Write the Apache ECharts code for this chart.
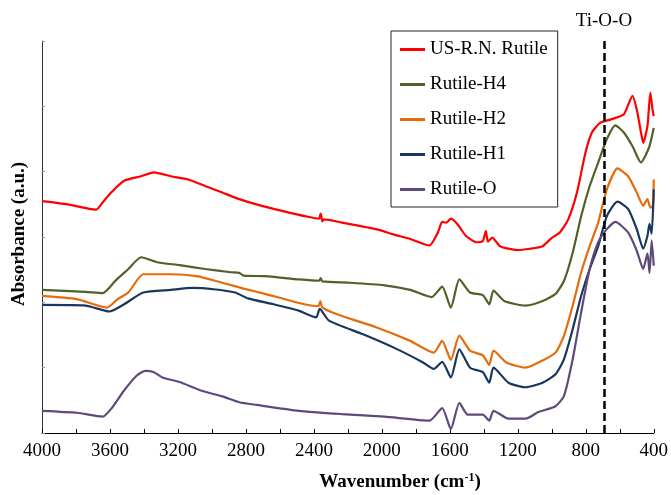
<!DOCTYPE html>
<html>
<head>
<meta charset="utf-8">
<script src="https://cdn.jsdelivr.net/npm/echarts@6/dist/echarts.min.js"></script>
<style>
    html, body { margin: 0; padding: 0; background: #fff; }
    #chart { width: 671px; height: 495px; }
</style>
</head>
<body>
<div id="chart"></div>
<script>
    // wavenumber (cm-1) / absorbance (a.u.)
    const redWn = [4000, 3850, 3720, 3680, 3643, 3593, 3517, 3417, 3341, 3241, 3140, 3040, 2939, 2839, 2738, 2587, 2436, 2370, 2360, 2350, 2340, 2235, 2034, 1933, 1833, 1720, 1670, 1645, 1620, 1594, 1556, 1506, 1443, 1406, 1388, 1376, 1350, 1305, 1204, 1129, 1054, 1003, 953, 903, 852, 802, 764, 714, 651, 576, 525, 500, 475, 462, 437, 420, 407, 400];
    const redAbs = [3.55, 3.50, 3.43, 3.42, 3.53, 3.68, 3.86, 3.93, 3.99, 3.93, 3.88, 3.78, 3.68, 3.58, 3.50, 3.40, 3.31, 3.28, 3.36, 3.24, 3.27, 3.22, 3.12, 3.04, 2.97, 2.87, 3.07, 3.23, 3.22, 3.28, 3.20, 3.02, 2.92, 2.94, 3.09, 2.93, 2.99, 2.86, 2.80, 2.82, 2.86, 2.98, 3.07, 3.27, 3.68, 4.29, 4.60, 4.75, 4.80, 4.88, 5.16, 4.95, 4.60, 4.44, 4.70, 5.21, 4.95, 4.85];

    const h4Wn = [4000, 3744, 3643, 3568, 3492, 3417, 3316, 3190, 3040, 2889, 2840, 2813, 2688, 2487, 2370, 2360, 2350, 2185, 1984, 1833, 1707, 1645, 1594, 1544, 1481, 1406, 1368, 1343, 1280, 1154, 1054, 978, 928, 877, 827, 777, 727, 676, 626, 576, 525, 475, 450, 425, 400];
    const h4Abs = [2.19, 2.16, 2.14, 2.33, 2.51, 2.69, 2.61, 2.57, 2.51, 2.46, 2.45, 2.41, 2.40, 2.35, 2.33, 2.37, 2.32, 2.30, 2.26, 2.19, 2.08, 2.24, 1.92, 2.35, 2.15, 2.11, 1.97, 2.18, 2.02, 1.95, 2.02, 2.13, 2.33, 2.76, 3.32, 3.78, 4.14, 4.50, 4.71, 4.60, 4.39, 4.14, 4.24, 4.39, 4.67];

    const h2Wn = [4000, 3794, 3618, 3555, 3492, 3404, 3241, 3090, 2939, 2813, 2688, 2487, 2374, 2362, 2350, 2235, 2034, 1833, 1695, 1645, 1594, 1544, 1481, 1406, 1368, 1343, 1267, 1154, 1054, 978, 928, 877, 827, 777, 727, 676, 613, 551, 500, 462, 437, 420, 405, 400];
    const h2Abs = [2.10, 2.05, 1.92, 2.05, 2.15, 2.43, 2.43, 2.40, 2.30, 2.21, 2.13, 1.99, 1.94, 2.02, 1.92, 1.79, 1.62, 1.41, 1.23, 1.41, 1.12, 1.49, 1.26, 1.19, 1.04, 1.26, 1.08, 1.00, 1.11, 1.23, 1.49, 1.95, 2.46, 2.86, 3.22, 3.73, 4.05, 3.93, 3.68, 3.48, 3.58, 3.45, 3.48, 3.88];

    const h1Wn = [4000, 3744, 3605, 3517, 3404, 3241, 3115, 2990, 2864, 2788, 2637, 2487, 2386, 2366, 2311, 2110, 1908, 1758, 1695, 1645, 1594, 1544, 1481, 1406, 1368, 1343, 1255, 1154, 1054, 978, 928, 877, 827, 777, 727, 676, 613, 551, 500, 462, 437, 425, 412, 400];
    const h1Abs = [1.96, 1.95, 1.86, 1.97, 2.15, 2.19, 2.22, 2.20, 2.15, 2.06, 1.97, 1.87, 1.77, 1.90, 1.72, 1.51, 1.28, 1.08, 0.98, 1.09, 0.85, 1.28, 1.00, 0.93, 0.77, 1.00, 0.77, 0.70, 0.77, 0.90, 1.13, 1.59, 2.10, 2.51, 2.86, 3.32, 3.54, 3.43, 3.12, 2.82, 3.02, 3.20, 3.05, 3.73];

    const oWn = [4000, 3794, 3643, 3593, 3517, 3442, 3392, 3341, 3291, 3190, 3065, 2939, 2839, 2738, 2487, 2235, 1984, 1720, 1645, 1594, 1544, 1494, 1406, 1368, 1343, 1255, 1154, 1079, 978, 928, 877, 827, 777, 727, 676, 626, 551, 500, 462, 437, 425, 412, 400];
    const oAbs = [0.34, 0.31, 0.25, 0.37, 0.65, 0.88, 0.95, 0.93, 0.85, 0.78, 0.65, 0.56, 0.47, 0.43, 0.34, 0.29, 0.25, 0.19, 0.38, 0.06, 0.46, 0.28, 0.28, 0.19, 0.34, 0.22, 0.22, 0.32, 0.41, 0.57, 1.13, 1.85, 2.51, 2.92, 3.12, 3.23, 3.07, 2.79, 2.51, 2.75, 2.45, 2.95, 2.56];

    const names = ['US-R.N. Rutile', 'Rutile-H4', 'Rutile-H2', 'Rutile-H1', 'Rutile-O'];
    const colors = ['#ff0000', '#4f6228', '#e46c0a', '#17375e', '#604a7b'];
    const tiOOWn = 693;

    const font = '"Liberation Serif", "Times New Roman", serif';

    function pairs(xs, ys) {
        let out = [];
        for (let i = 0; i < xs.length; i++) {
            out.push([xs[i], ys[i]]);
        }
        return out;
    }

    const allData = [
        pairs(redWn, redAbs),
        pairs(h4Wn, h4Abs),
        pairs(h2Wn, h2Abs),
        pairs(h1Wn, h1Abs),
        pairs(oWn, oAbs)
    ];

    let series = names.map((name, i) => ({
        name: name,
        type: 'line',
        data: allData[i],
        symbol: 'none',
        smooth: 0.2,
        lineStyle: { color: colors[i], width: 2.2 },
        itemStyle: { color: colors[i] },
        z: 3
    }));

    // dashed Ti-O-O marker
    series[0].markLine = {
        silent: true,
        symbol: 'none',
        lineStyle: { color: '#000', type: [8, 4], width: 2.5 },
        label: {
            show: true,
            position: 'end',
            formatter: 'Ti-O-O',
            color: '#000',
            fontFamily: font,
            fontSize: 19,
            distance: 10
        },
        data: [{ xAxis: tiOOWn }]
    };

    let chart = echarts.init(document.getElementById('chart'));
    chart.setOption({
        animation: false,
        grid: { left: 42, right: 16, top: 41, bottom: 62 },
        legend: {
            data: names,
            orient: 'vertical',
            left: 391,
            top: 31,
            padding: [9, 10, 8, 9],
            itemGap: 16,
            itemWidth: 25,
            itemHeight: 3,
            icon: 'rect',
            borderColor: '#222',
            borderWidth: 1,
            backgroundColor: '#fff',
            textStyle: { fontFamily: font, fontSize: 19, color: '#000', lineHeight: 19 }
        },
        xAxis: {
            type: 'value',
            inverse: true,
            min: 400,
            max: 4000,
            interval: 200,
            axisLine: { lineStyle: { color: '#000', width: 1 } },
            axisTick: { inside: true, length: 4, lineStyle: { color: '#000' } },
            splitLine: { show: false },
            axisLabel: {
                color: '#000',
                fontFamily: font,
                fontSize: 19,
                margin: 9,
                formatter: v => (v % 400 === 0 ? String(v) : '')
            }
        },
        yAxis: {
            type: 'value',
            min: 0,
            max: 6,
            interval: 1,
            axisLine: { show: true, lineStyle: { color: '#333', width: 1 } },
            axisTick: { show: true, inside: true, length: 3, lineStyle: { color: '#999' } },
            axisLabel: { show: false },
            splitLine: { show: false }
        },
        graphic: [
            {
                type: 'text',
                x: 400,
                y: 482,
                style: {
                    text: '{a|Wavenumber (cm}{s|-1}{a|)}',
                    align: 'center',
                    verticalAlign: 'middle',
                    rich: {
                        a: { fontFamily: font, fontSize: 19, fontWeight: 'bold', fill: '#000' },
                        s: { fontFamily: font, fontSize: 12, fontWeight: 'bold', fill: '#000', padding: [0, 0, 9, 0] }
                    }
                }
            },
            {
                type: 'text',
                x: 19,
                y: 234,
                rotation: Math.PI / 2,
                style: {
                    text: 'Absorbance (a.u.)',
                    align: 'center',
                    verticalAlign: 'middle',
                    fontFamily: font,
                    fontSize: 19,
                    fontWeight: 'bold',
                    fill: '#000'
                }
            }
        ],
        series: series
    });
</script>
</body>
</html>
